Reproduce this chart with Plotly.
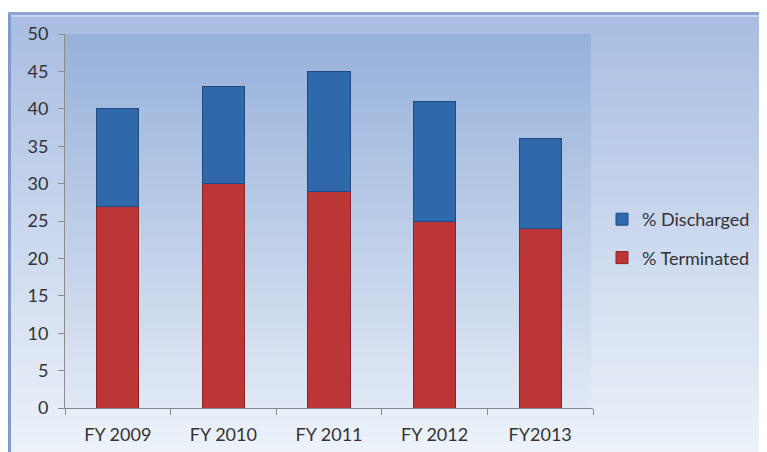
import plotly.graph_objects as go

categories = ["FY 2009", "FY 2010", "FY 2011", "FY 2012", "FY2013"]
terminated = [27, 30, 29, 25, 24]
discharged = [13, 13, 16, 16, 12]
y_ticks = [0, 5, 10, 15, 20, 25, 30, 35, 40, 45, 50]

OFF = 8  # page body margin
W, H = 767 - OFF, 452 - OFF
L, R, T, B = 65, 593, 34, 408  # plot area in page pixels


def px_x(px):
    return (px - L) / (R - L)


def px_y(py):
    return (B - py) / (B - T)


def lerp(c1, c2, t):
    return "rgb(%d,%d,%d)" % tuple(round(a + (b - a) * t) for a, b in zip(c1, c2))


shapes = []
N = 80
top_y, bot_y = 13, 460
for i in range(N):
    y0 = top_y + (bot_y - top_y) * i / N
    y1 = top_y + (bot_y - top_y) * (i + 1) / N + 2
    shapes.append(dict(type="rect", xref="paper", yref="paper", layer="below",
                       x0=px_x(10), x1=px_x(780), y0=px_y(y1), y1=px_y(y0),
                       fillcolor=lerp((168, 189, 226), (238, 243, 250), i / (N - 1)),
                       line=dict(width=0)))
for i in range(N):
    y0 = T + (B - T) * i / N
    y1 = min(B, T + (B - T) * (i + 1) / N + 2)
    shapes.append(dict(type="rect", xref="paper", yref="paper", layer="below",
                       x0=0, x1=px_x(591), y0=px_y(y1), y1=px_y(y0),
                       fillcolor=lerp((151, 177, 219), (224, 232, 244), i / (N - 1)),
                       line=dict(width=0)))
shapes.append(dict(type="rect", xref="paper", yref="paper", layer="below",
                   x0=px_x(8), x1=px_x(11), y0=px_y(460), y1=px_y(12),
                   fillcolor="rgb(128,155,202)", line=dict(width=0)))
shapes.append(dict(type="rect", xref="paper", yref="paper", layer="below",
                   x0=px_x(8), x1=px_x(780), y0=px_y(15), y1=px_y(12),
                   fillcolor="rgb(140,165,210)", line=dict(width=0)))
shapes.append(dict(type="rect", xref="paper", yref="paper", layer="below",
                   x0=px_x(11), x1=px_x(780), y0=px_y(17), y1=px_y(15),
                   fillcolor="rgb(200,214,238)", line=dict(width=0)))

fig = go.Figure()
fig.add_trace(go.Bar(x=categories, y=terminated, name="% Terminated",
                     legendgroup="t", legendrank=2,
                     marker=dict(color="#bd3637", line=dict(color="#8a2424", width=1))))
fig.add_trace(go.Bar(x=categories, y=discharged, name="% Discharged",
                     legendgroup="d", legendrank=1,
                     marker=dict(color="#2f69ab", line=dict(color="#1f4a80", width=1))))

font = dict(family="Lato, Open Sans, sans-serif", size=18, color="#333333")
fig.update_layout(
    width=W, height=H,
    margin=dict(l=L - OFF, r=W - (R - OFF), t=T - OFF, b=H - (B - OFF), pad=0,
                autoexpand=False),
    barmode="stack", bargap=0.6,
    paper_bgcolor="white", plot_bgcolor="rgba(0,0,0,0)",
    font=font,
    shapes=shapes,
    showlegend=True,
    legend=dict(x=px_x(602), y=px_y(201), xanchor="left", yanchor="top",
                traceorder="grouped", tracegroupgap=12,
                bgcolor="rgba(0,0,0,0)", font=dict(size=18, color="#333333"),
                itemwidth=30),
    xaxis=dict(showline=True, linecolor="#8c8c8c", linewidth=1,
               ticks="outside", ticklen=6, tickcolor="#8c8c8c",
               tickson="boundaries", showgrid=False, zeroline=False,
               tickfont=font, range=[-0.5, 4.5], ticklabelstandoff=10,
               automargin=False),
    yaxis=dict(range=[0, 50], tickvals=y_ticks, showline=True,
               linecolor="#8c8c8c", linewidth=1, ticks="outside",
               ticklen=6, tickcolor="#8c8c8c", showgrid=False,
               zeroline=False, tickfont=font, ticklabelstandoff=6,
               automargin=False),
)
fig.write_html("out.html")
